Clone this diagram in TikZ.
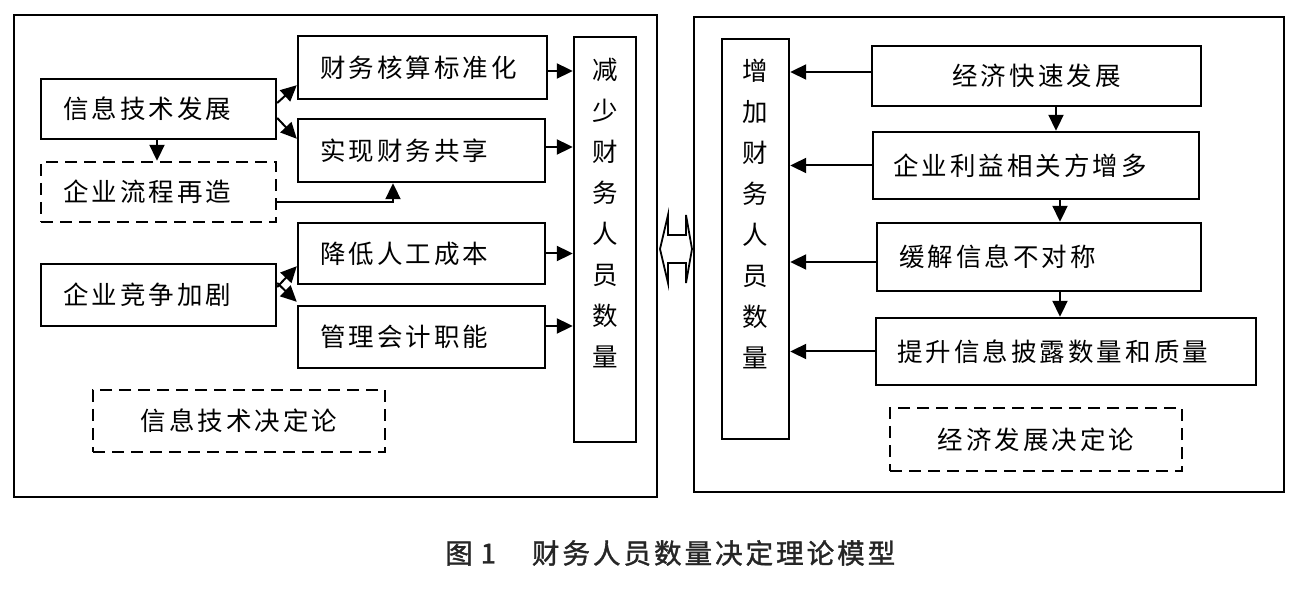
\documentclass[tikz,border=0pt]{standalone}
\usepackage{fontspec}
\setmainfont{Noto Sans CJK SC}
\usetikzlibrary{arrows.meta,calc}
\newcommand\boxfont{\fontsize{25.5}{30}\selectfont\addfontfeature{LetterSpace=12}}
\newcommand\colfont{\fontsize{25.5}{41}\selectfont}
\newcommand\capfont{\fontsize{27.5}{30}\selectfont\addfontfeature{LetterSpace=11,FakeBold=1.4}}
\tikzset{
 bx/.style={draw, line width=2.4pt, inner ysep=0pt, inner xsep=22pt, align=left, font=\boxfont},
 cbx/.style={bx, align=center, inner xsep=0pt},
 dbx/.style={dash pattern=on 12pt off 7pt},
 col/.style={draw, line width=2.4pt, inner sep=0pt},
 coltxt/.style={inner sep=0pt, align=center, font=\colfont},
 arr/.style={line width=2pt, -{Triangle[length=16pt,width=15pt]}},
 outer/.style={draw, line width=2.6pt, inner sep=0pt},
 dbl/.style={draw, line width=1.8pt, line join=miter}
}
\begin{document}
\begin{tikzpicture}[x=1pt,y=-1pt]
\useasboundingbox (0,0) rectangle (1296,601);
% outer frames
\node[outer, minimum width=643pt, minimum height=482pt] (L) at (335.5,256) {};
\node[outer, minimum width=590pt, minimum height=475pt] (R) at (989,254.5) {};
% left side
\node[bx, text width=191pt, minimum height=60pt] (a1) at (158.5,109) {信息技术发展};
\node[bx, dbx, text width=191pt, minimum height=60pt] (a2) at (158.5,192) {企业流程再造};
\node[bx, text width=191pt, minimum height=62pt] (a4) at (158.5,295) {企业竞争加剧};
\node[cbx, dbx, text width=292pt, minimum height=62pt] (a5) at (239,421) {信息技术决定论};
\node[bx, text width=205pt, minimum height=63pt] (s1) at (422.5,67.5) {财务核算标准化};
\node[bx, text width=203pt, minimum height=63pt] (s2) at (421.5,150.5) {实现财务共享};
\node[bx, text width=203pt, minimum height=61pt] (s3) at (421.5,253.5) {降低人工成本};
\node[bx, text width=203pt, minimum height=62pt] (s4) at (421.5,337) {管理会计职能};
\node[col, minimum width=62pt, minimum height=405pt] (c1) at (605,239.5) {};
\node[coltxt] (c1t) at (605,213) {减\\少\\财\\务\\人\\员\\数\\量};
% left connectors
\draw[arr] ([yshift=6pt]a1.east) -- ([yshift=15pt]s1.south west);
\draw[arr] ([yshift=-9pt]a1.east) -- ([yshift=-21pt]s2.north west);
\coordinate (dxa) at (157,0);
\draw[arr] (dxa |- a1.south) -- (dxa |- a2.north);
\coordinate (pq) at (393,202);
\draw[arr] (a2.east |- pq) -- (pq) -- (pq |- s2.south);
\draw[arr] ([yshift=8pt]a4.east) -- ([yshift=19pt]s3.south west);
\draw[arr] ([yshift=12pt]a4.east) -- ([yshift=3pt]s4.north west);
\draw[arr] ([yshift=-3.5pt]s1.east) -- ([yshift=-3.5pt]s1.east -| c1.west);
\draw[arr] ([yshift=3.5pt]s2.east) -- ([yshift=3.5pt]s2.east -| c1.west);
\draw[arr] (s3.east) -- (s3.east -| c1.west);
\draw[arr] ([yshift=11pt]s4.east) -- ([yshift=11pt]s4.east -| c1.west);
% right side
\node[col, minimum width=67pt, minimum height=400pt] (c2) at (755.5,239) {};
\node[coltxt] (c2t) at (755.5,214) {增\\加\\财\\务\\人\\员\\数\\量};
\node[cbx, text width=329pt, minimum height=60pt] (r1) at (1036.5,76) {经济快速发展};
\node[bx, inner xsep=20pt, text width=286pt, minimum height=67pt] (r2) at (1036,165.5) {企业利益相关方增多};
\node[bx, text width=280pt, minimum height=68pt] (r3) at (1039,257) {缓解信息不对称};
\node[bx, inner xsep=21pt, text width=338pt, minimum height=67pt] (r4) at (1066,351.5) {提升信息披露数量和质量};
\node[cbx, dbx, text width=292pt, minimum height=63pt] (r5) at (1036,439.5) {经济发展决定论};
\draw[arr] ([yshift=4pt]r1.west) -- ([yshift=4pt]r1.west -| c2.east);
\draw[arr] (r2.west) -- (r2.west -| c2.east);
\draw[arr] ([yshift=-5pt]r3.west) -- ([yshift=-5pt]r3.west -| c2.east);
\draw[arr] (r4.west) -- (r4.west -| c2.east);
\coordinate (dxb) at (1056,0);
\coordinate (dxc) at (1060,0);
\draw[arr] (dxb |- r1.south) -- (dxb |- r2.north);
\draw[arr] (dxc |- r2.south) -- (dxc |- r3.north);
\draw[arr] (dxc |- r3.south) -- (dxc |- r4.north);
% double arrow between the frames
\draw[dbl] (660,249) -- (668,215) -- (668,235) -- (686,235) -- (686,215) -- (692,249)
  -- (686,283) -- (686,263) -- (668,263) -- (668,283) -- cycle;
% caption
\node[font=\capfont, anchor=west, inner sep=0pt, text=black!85] (cap) at (445,553)
  {图\hspace{8pt}1\hspace{36pt}财务人员数量决定理论模型};
\end{tikzpicture}
\end{document}
